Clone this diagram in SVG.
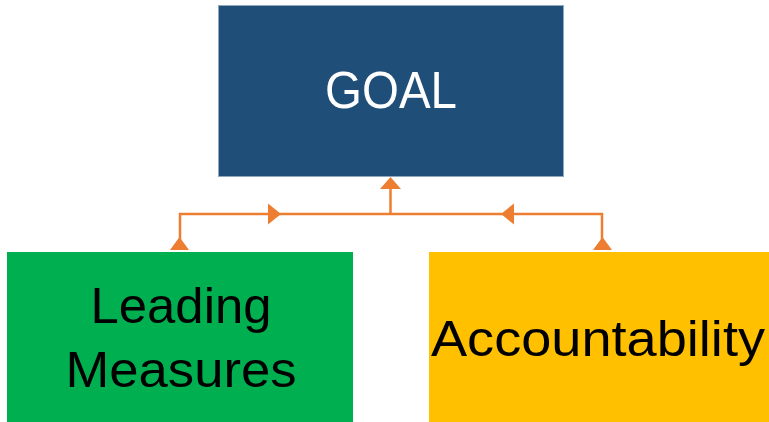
<svg xmlns="http://www.w3.org/2000/svg" width="769" height="422" viewBox="0 0 769 422">
  <style>
    .conn { fill: none; stroke: #ED7D31; stroke-width: 2.5; }
    .head { fill: #ED7D31; }
    .lbl { font-family: "Liberation Sans", Arial, sans-serif; text-anchor: middle; }
  </style>
  <rect width="769" height="422" fill="#ffffff"/>
  <g id="connectors">
    <path class="conn" d="M180,249 V214 H602 V249"/>
    <path class="conn" d="M390.5,214 V186"/>
    <polygon class="head" points="170,250 189,250 179.5,237"/>
    <polygon class="head" points="593,250 612,250 602.5,237"/>
    <polygon class="head" points="380,189 401,189 390.5,177"/>
    <polygon class="head" points="268,203.5 268,224.5 281,214"/>
    <polygon class="head" points="514,203.5 514,224.5 501,214"/>
  </g>
  <g id="goal">
    <rect x="218.5" y="5.5" width="345" height="171" fill="#1F4E79" stroke="#8FA8C0" stroke-width="1"/>
    <text class="lbl" x="391" y="108" font-size="52" fill="#ffffff" textLength="132" lengthAdjust="spacingAndGlyphs">GOAL</text>
  </g>
  <g id="leading-measures">
    <rect x="7" y="252" width="346" height="170" fill="#00B050"/>
    <text class="lbl" x="181" y="323" font-size="50" fill="#000000" textLength="181" lengthAdjust="spacingAndGlyphs">Leading</text>
    <text class="lbl" x="181" y="387" font-size="50" fill="#000000" textLength="231" lengthAdjust="spacingAndGlyphs">Measures</text>
  </g>
  <g id="accountability">
    <rect x="429" y="252" width="340" height="170" fill="#FFC000"/>
    <text class="lbl" x="598" y="356" font-size="50" fill="#000000" textLength="334" lengthAdjust="spacingAndGlyphs">Accountability</text>
  </g>
</svg>
